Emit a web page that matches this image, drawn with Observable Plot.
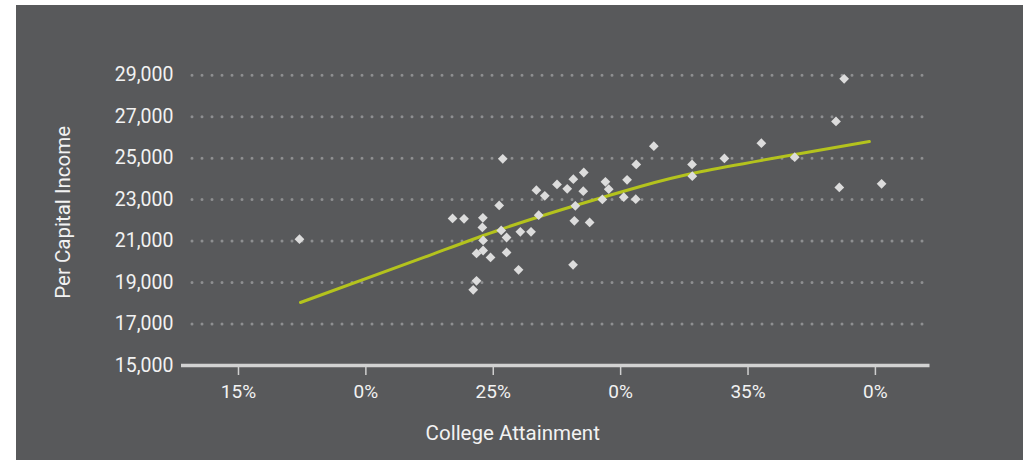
<!DOCTYPE html>
<html>
<head>
<meta charset="utf-8">
<script src="https://cdn.jsdelivr.net/npm/d3@7"></script>
<script src="https://cdn.jsdelivr.net/npm/@observablehq/plot@0.6"></script>
<style>
  html, body { margin: 0; padding: 0; background: #ffffff; width: 1023px; height: 460px; overflow: hidden; }
  #panel { position: absolute; left: 16px; top: 5px; right: 0; bottom: 0; background: #58595b; }
  #chart { position: absolute; left: 0; top: 0; }
</style>
</head>
<body>
<div id="panel"></div>
<div id="chart"></div>
<script>
// College attainment (%) per state
const attainment = [25.53, 31.46, 23.56, 24.01, 24.75, 24.73, 25.39, 25.47, 25.68, 24.76,
  24.76, 24.50, 25.05, 25.68, 26.22, 26.64, 26.15, 24.50, 24.37, 26.85,
  27.18, 26.94, 27.66, 28.06, 28.30, 28.71, 28.69, 28.38, 28.34, 28.94,
  28.29, 29.56, 29.69, 29.44, 30.41, 30.77, 30.28, 30.75, 32.96, 32.97,
  34.23, 35.68, 36.99, 38.93, 38.61, 38.74, 40.40, 17.55];
// Per capita income
const income = [24970, 25577, 22090, 22075, 22124, 21656, 22717, 21511, 21173, 21029,
  20546, 20402, 20209, 20450, 21448, 21448, 19616, 19085, 18651, 23455,
  23185, 22249, 23730, 23522, 23985, 24308, 23406, 22702, 21979, 21897,
  19857, 23860, 23503, 23006, 23956, 24694, 23117, 23021, 24694, 24130,
  24984, 25722, 25046, 28828, 26768, 23585, 23763, 21091];

// Fitted trend line
const trendX = [17.59, 22.3, 25.44, 28.38, 30.93, 33.29, 36.94, 39.92];
const trendY = [18039, 20150, 21560, 22717, 23633, 24342, 25162, 25803];

const xTicks = [15, 20, 25, 30, 35, 40];
const xTickLabels = ["15%", "0%", "25%", "0%", "35%", "0%"];
const yTicks = [15000, 17000, 19000, 21000, 23000, 25000, 27000, 29000];
const xTitle = "College Attainment";
const yTitle = "Per Capital Income";

const points = attainment.map((a, i) => ({x: a, y: income[i]}));
const trend = trendX.map((a, i) => ({x: a, y: trendY[i]}));

const textColor = "#f2f2f2";

const chart = Plot.plot({
  width: 1023,
  height: 460,
  marginLeft: 181,
  marginRight: 93.5,
  marginTop: 74.7,
  marginBottom: 95,
  style: {background: "transparent", fontFamily: "Roboto, 'Noto Sans', sans-serif", color: textColor},
  x: {domain: [12.92, 42.3]},
  y: {domain: [15000, 29000]},
  marks: [
    Plot.ruleY(yTicks.slice(1), {stroke: "#8e8f91", strokeWidth: 3, strokeDasharray: "0,10", strokeLinecap: "round", insetLeft: 11, insetRight: 6}),
    Plot.axisY({ticks: yTicks, tickSize: 0, tickPadding: 8, tickFormat: d3.format(","), fontSize: 19.5, fill: textColor, label: null}),
    Plot.axisX({ticks: xTicks, tickSize: 10, tickPadding: 9, tickFormat: (d, i) => xTickLabels[i], fontSize: 19, fill: textColor, stroke: "#cfcfcf", strokeWidth: 1.5, label: null, textAnchor: "middle", dx: 4}),
    Plot.ruleY([15000], {stroke: "#d2d2d2", strokeWidth: 3.5}),
    Plot.line(trend, {x: "x", y: "y", curve: "natural", stroke: "#b4c31d", strokeWidth: 3}),
    Plot.dot(points, {x: "x", y: "y", symbol: "diamond2", r: 4.4, fill: "#dcdcdc", stroke: "none"}),
    Plot.text([xTitle], {text: d => d, frameAnchor: "bottom", textAnchor: "middle", dx: -43, dy: 74, fontSize: 20.5, fill: textColor}),
    Plot.text([yTitle], {text: d => d, frameAnchor: "left", textAnchor: "middle", rotate: -90, dx: -118, dy: -8, fontSize: 20.5, fill: textColor})
  ]
});
document.getElementById("chart").appendChild(chart);
</script>
</body>
</html>
